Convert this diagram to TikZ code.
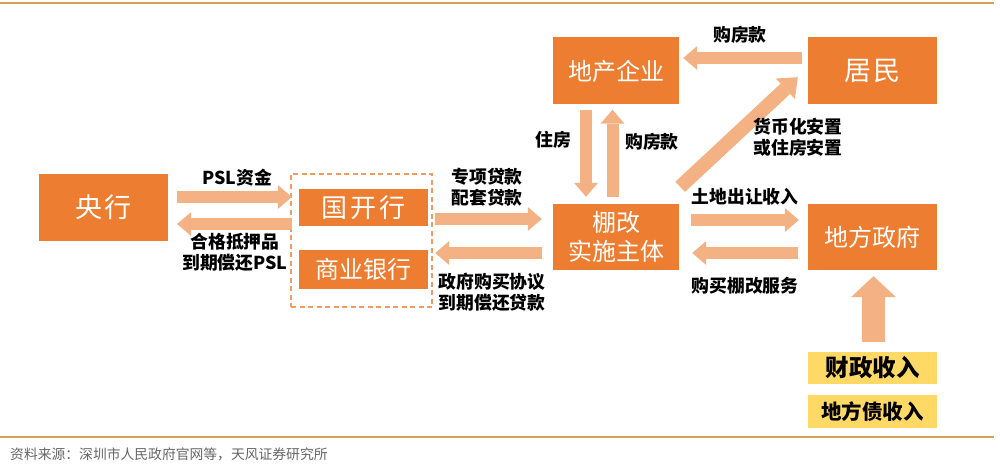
\documentclass[tikz,border=0pt]{standalone}
\usepackage{fontspec}
\setmainfont{Noto Sans CJK SC}
\usetikzlibrary{arrows.meta,calc}
\definecolor{boxc}{HTML}{ED7D31}
\definecolor{arrc}{HTML}{F4B183}
\definecolor{dashc}{HTML}{EF9C62}
\definecolor{yelc}{HTML}{FFD966}
\definecolor{rulec}{HTML}{D9A05B}
\definecolor{footc}{HTML}{666666}
\tikzset{
  obox/.style={fill=boxc, text=white, inner sep=0pt, font=\fontsize{24}{27}\selectfont},
  ybox/.style={fill=yelc, text=black, inner sep=0pt, minimum width=129pt},
  lbl/.style={inner sep=0pt, align=center, font=\bfseries\fontsize{17.8}{21}\selectfont},
  fat/.style={draw=arrc, line width=12pt, -{Triangle[length=14pt,width=24pt,line width=0pt]}},
  dashbox/.style={draw=dashc, line width=1.3pt, dash pattern=on 5pt off 3.5pt, inner sep=0pt},
}
\begin{document}
\begin{tikzpicture}[x=1pt,y=-1pt]
\useasboundingbox (0,0) rectangle (1000,465);
% rules
\draw[rulec, line width=1.5pt] (0,3) -- (994,3);
\draw[rulec, line width=1.5pt] (0,437) -- (994,437);
% boxes
\node[obox, minimum width=129pt, minimum height=67pt, font=\fontsize{27}{29}\selectfont] (yh) at (103.5,207.5) {央\hspace{2pt}行};
\node[dashbox, minimum width=141pt, minimum height=133pt] (grp) at (361.5,240.5) {};
\node[obox, minimum width=129pt, minimum height=37pt, font=\fontsize{26}{28}\selectfont] (gk) at (363.5,207.5) {国\hspace{3pt}开\hspace{3pt}行};
\node[obox, minimum width=129pt, minimum height=39pt] (sy) at (363.5,269.5) {商业银行};
\node[obox, minimum width=126pt, minimum height=66pt, align=center, font=\fontsize{24}{29}\selectfont] (pg) at (616,237) {棚改\\实施主体};
\node[obox, minimum width=126pt, minimum height=67pt] (dc) at (616,71) {地产企业};
\node[obox, minimum width=129pt, minimum height=67pt, font=\fontsize{27}{29}\selectfont] (jm) at (872.5,71) {居\hspace{2pt}民};
\node[obox, minimum width=129pt, minimum height=66pt] (df) at (872.5,237) {地方政府};
\node[ybox, minimum height=32pt, font=\bfseries\fontsize{23.5}{26}\selectfont] (cz) at (872.5,368) {财政收入};
\node[ybox, minimum height=33pt, font=\bfseries\fontsize{20.5}{24}\selectfont] (dz) at (872.5,411.5) {地方债收入};
% arrows
\draw[fat] ($(yh.east)+(9,-10.5)$) -- ($(gk.west)+(-7,-10.5)$);
\draw[fat] ($(gk.west)+(-7,16.5)$) -- ($(yh.east)+(9,16.5)$);
\draw[fat] ($(gk.east)+(7,11.5)$) -- ($(pg.west)+(-11,-18)$);
\draw[fat] ($(pg.west)+(-11,16)$) -- ($(sy.east)+(7,-16.5)$);
\draw[fat] ($(pg.east)+(12,-17)$) -- ($(df.west)+(-9,-17)$);
\draw[fat] ($(df.west)+(-10,16)$) -- ($(pg.east)+(13,16)$);
\draw[fat] ($(dc.south)+(-30,5)$) -- ($(pg.north)+(-30,-7)$);
\draw[fat] ($(pg.north)+(-3.5,-7)$) -- ($(dc.south)+(-3.5,5)$);
\draw[fat] ($(jm.west)+(-6,-13)$) -- ($(dc.east)+(4,-13)$);
\draw[fat, line width=14pt, -{Triangle[length=17pt,width=28pt,line width=0pt]}] ($(pg.north east)+(1,-17)$) -- ($(jm.south west)+(-10,-27.5)$);
\draw[fat, line width=23pt, -{Triangle[length=21pt,width=45pt,line width=0pt]}] ($(cz.north)+(1,-10)$) -- ($(df.south)+(1,6)$);
% labels
\node[lbl] (l1) at (237,178) {PSL资金};
\node[lbl] (l2) at (235,252) {合格抵押品\\到期偿还PSL};
\node[lbl] (l3) at (487,187.5) {专项贷款\\配套贷款};
\node[lbl] (l4) at (492,292) {政府购买协议\\到期偿还贷款};
\node[lbl] (l5) at (553,140) {住房};
\node[lbl] (l6) at (652,142) {购房款};
\node[lbl] (l7) at (740,35) {购房款};
\node[lbl] (l8) at (798,137) {货币化安置\\或住房安置};
\node[lbl] (l9) at (745,197) {土地出让收入};
\node[lbl] (l10) at (745,286) {购买棚改服务};
% footer
\node[inner sep=0pt, anchor=west, text=footc, font=\fontsize{13.8}{15}\selectfont] (src) at (10,454) {资料来源：深圳市人民政府官网等，天风证券研究所};
\end{tikzpicture}
\end{document}
